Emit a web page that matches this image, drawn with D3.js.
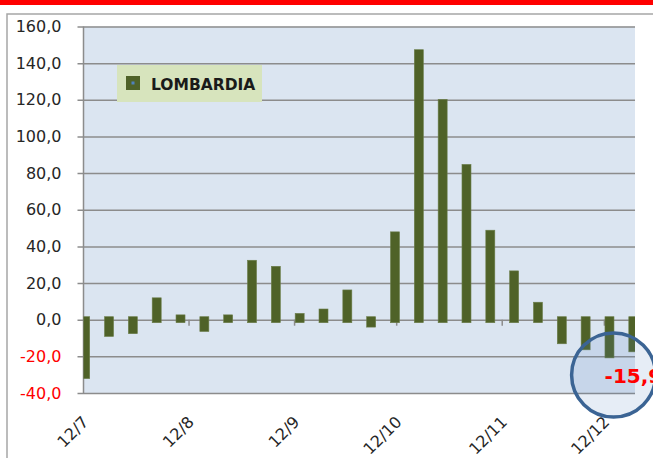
<!DOCTYPE html>
<html>
<head>
<meta charset="utf-8">
<script src="https://cdn.jsdelivr.net/npm/d3@7"></script>
<style>
  body { margin: 0; background: #fff; }
  svg { display: block; }
  text { font-family: "DejaVu Sans", sans-serif; }
</style>
</head>
<body>
<div id="chart"></div>
<script>
// weekly variation, Lombardia
const weeks = [
  "2012-07-01", "2012-07-08", "2012-07-15", "2012-07-22", "2012-07-29",
  "2012-08-05", "2012-08-12", "2012-08-19", "2012-08-26", "2012-09-02",
  "2012-09-09", "2012-09-16", "2012-09-23", "2012-09-30", "2012-10-07",
  "2012-10-14", "2012-10-21", "2012-10-28", "2012-11-04", "2012-11-11",
  "2012-11-18", "2012-11-25", "2012-12-02", "2012-12-09"
];
const values = [
  -30.5, -7.5, -6.0, 10.3, 1.0, -4.8, 1.0, 30.8, 27.5, 1.8, 4.2, 14.6,
  -2.4, 46.3, 145.7, 118.6, 83.1, 47.2, 25.0, 7.9, -11.5, -14.8, -19.2, -15.9
];
const monthTicks = ["2012-07-01", "2012-08-01", "2012-09-01", "2012-10-01", "2012-11-01", "2012-12-01"];
const yTicks = [-40, -20, 0, 20, 40, 60, 80, 100, 120, 140, 160];
const seriesName = "LOMBARDIA";
const calloutLabel = "-15,9";

const W = 653, H = 458;
const plot = { left: 83.5, top: 26.5, right: 635, bottom: 393 };
const parse = d3.utcParse("%Y-%m-%d");
const DAY = 864e5;

const svg = d3.select("#chart").append("svg")
  .attr("width", W).attr("height", H);

svg.append("rect").attr("width", W).attr("height", H).attr("fill", "#fff");
svg.append("rect").attr("x", 0).attr("y", 0).attr("width", W).attr("height", 5).attr("fill", "#ff0000");

// outer chart frame
svg.append("path")
  .attr("d", `M7,${H} V14 H${W}`)
  .attr("fill", "none").attr("stroke", "#a6a6a6").attr("stroke-width", 1.5);

const x = d3.scaleUtc()
  .domain([parse(weeks[0]), new Date(+parse(weeks[weeks.length - 1]) + DAY)])
  .range([plot.left, plot.right]);
const y = d3.scaleLinear().domain([-40, 160]).range([plot.bottom, plot.top]);

svg.append("rect")
  .attr("x", plot.left).attr("y", plot.top)
  .attr("width", plot.right - plot.left).attr("height", plot.bottom - plot.top)
  .attr("fill", "#dbe5f1");

svg.append("defs").append("clipPath").attr("id", "clip")
  .append("rect")
  .attr("x", plot.left).attr("y", 0)
  .attr("width", plot.right - plot.left).attr("height", H);

// y axis with gridlines
const yAxis = svg.append("g")
  .attr("transform", `translate(${plot.left},0)`)
  .call(d3.axisLeft(y).tickValues(yTicks)
    .tickSize(-(plot.right - plot.left))
    .tickSizeOuter(0)
    .tickPadding(22)
    .tickFormat(d => d3.format(".1f")(d).replace(".", ",").replace("−", "-")));
yAxis.select(".domain").remove();
yAxis.selectAll(".tick line")
  .attr("x1", -6)
  .attr("stroke", "#8c8c8c").attr("stroke-width", 1.5);
yAxis.selectAll(".tick text")
  .attr("font-size", 16)
  .attr("fill", d => d < 0 ? "#ff0000" : "#262626");

svg.append("line")
  .attr("x1", plot.left).attr("x2", plot.left)
  .attr("y1", plot.top).attr("y2", plot.bottom)
  .attr("stroke", "#8c8c8c").attr("stroke-width", 1.5);

// month ticks hanging from the zero line
svg.append("g").selectAll("line")
  .data(monthTicks.slice(1))
  .join("line")
  .attr("x1", d => x(parse(d))).attr("x2", d => x(parse(d)))
  .attr("y1", y(0)).attr("y2", y(0) + 6)
  .attr("stroke", "#8c8c8c").attr("stroke-width", 1.5);

// bars
const barW = 9, pad = 3;
svg.append("g").attr("clip-path", "url(#clip)")
  .selectAll("rect")
  .data(weeks.map((d, i) => ({ date: parse(d), v: values[i] })))
  .join("rect")
  .attr("x", d => x(new Date(+d.date + DAY / 2)) - barW / 2)
  .attr("width", barW)
  .attr("y", d => y(Math.max(d.v, 0)) - pad)
  .attr("height", d => Math.abs(y(d.v) - y(0)) + 2 * pad)
  .attr("fill", "#4f6228")
  .attr("stroke", "#6b7d4a").attr("stroke-width", 0.6);

// x labels
svg.append("g").selectAll("text")
  .data(monthTicks)
  .join("text")
  .attr("transform", d => `translate(${x(parse(d)) + 6},${plot.bottom + 30}) rotate(-45)`)
  .attr("text-anchor", "end")
  .attr("font-size", 16)
  .attr("fill", "#262626")
  .text(d => d3.utcFormat("%y/%-m")(parse(d)));

// legend
const lg = svg.append("g").attr("transform", "translate(117,65)");
lg.append("rect").attr("width", 145).attr("height", 37).attr("fill", "#d7e4bd");
lg.append("rect").attr("x", 9).attr("y", 11).attr("width", 14).attr("height", 14).attr("fill", "#4f6228");
lg.append("rect").attr("x", 14.5).attr("y", 16.5).attr("width", 3).attr("height", 3).attr("fill", "#4f81bd");
lg.append("text").attr("x", 34).attr("y", 25)
  .attr("font-size", 15.5).attr("font-weight", "bold").attr("fill", "#1a1a1a")
  .text(seriesName);

// callout circle on last value
const last = parse(weeks[weeks.length - 1]);
const cx = x(last) - 18, cy = 375;
svg.append("circle")
  .attr("cx", cx).attr("cy", cy).attr("r", 42)
  .attr("fill", "rgba(79,129,189,0.14)")
  .attr("stroke", "#3b6494").attr("stroke-width", 3.5);
svg.append("text")
  .attr("x", cx - 9).attr("y", cy + 8)
  .attr("font-size", 20).attr("font-weight", "bold").attr("fill", "#ff0000")
  .text(calloutLabel);
</script>
</body>
</html>
